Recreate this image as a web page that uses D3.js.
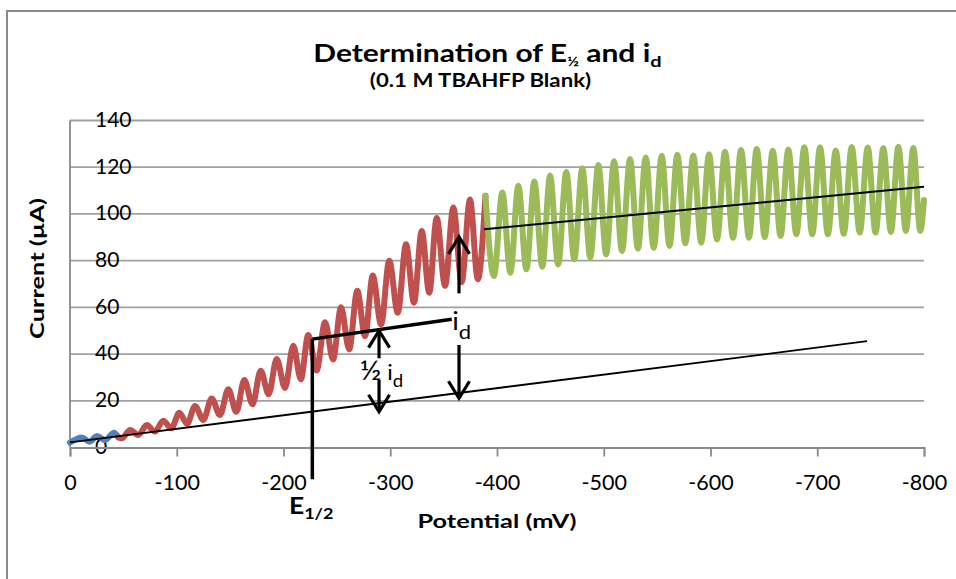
<!DOCTYPE html>
<html>
<head>
<meta charset="utf-8">
<script src="https://cdn.jsdelivr.net/npm/d3@7"></script>
<style>
  body { margin: 0; background: #fff; }
  svg { display: block; font-family: Lato, "Open Sans", sans-serif; }
</style>
</head>
<body>
<svg id="chart" width="956" height="579"></svg>
<script>
// tick labels
const xTicks = [0, -100, -200, -300, -400, -500, -600, -700, -800];
const yTicks = [0, 20, 40, 60, 80, 100, 120, 140];

// blue series (potential mV, current uA)
const blueX = [0, -11.0, -18.1, -25.6, -32.8, -41.2, -45.2];
const blueY = [2.1, 4.3, 2.5, 4.9, 3.2, 6.3, 4.4];

// red series: peaks and troughs
const redX = [-45.2, -48.6, -56.2, -64.0, -71.9, -79.6, -87.4, -94.9, -102.4, -109.7, -117.1, -124.9,
  -132.7, -140.5, -148.3, -155.8, -163.3, -171.0, -178.6, -186.1, -193.6, -201.4, -209.2, -216.2,
  -223.2, -231.0, -238.9, -246.4, -253.9, -261.5, -269.1, -276.4, -283.6, -291.4, -299.1, -307.0,
  -314.8, -322.2, -329.5, -336.5, -343.5, -351.3, -359.1, -366.9, -374.7, -382.0, -389.2];
const redY = [4.4, 3.9, 7.5, 5.4, 9.6, 6.8, 11.5, 8.2, 14.9, 10.1, 17.8, 11.8,
  21.0, 13.9, 24.9, 15.3, 28.9, 18.5, 32.9, 22.8, 37.9, 25.5, 43.6, 29.2,
  48.2, 33.0, 53.6, 37.7, 60.0, 42.0, 67.1, 47.7, 73.6, 52.7, 80.0, 57.7,
  87.0, 62.0, 92.7, 66.3, 98.3, 69.2, 102.7, 70.8, 106.2, 72.0, 107.8];

// green series
const greenX = [-389.2, -397.1, -405.0, -412.5, -420.0, -427.5, -435.0, -442.4, -449.7, -457.3,
  -464.9, -472.4, -479.9, -487.4, -494.9, -502.3, -509.6, -517.1, -524.6, -532.0, -539.3, -546.8,
  -554.3, -561.6, -568.9, -576.4, -583.9, -591.3, -598.6, -606.1, -613.6, -621.1, -628.6, -636.0,
  -643.3, -650.8, -658.3, -665.6, -672.9, -680.4, -687.9, -695.3, -702.6, -710.0, -717.3, -724.8,
  -732.3, -739.8, -747.3, -754.6, -761.9, -769.0, -776.0, -783.0, -790.0, -796.5, -800.0];
const greenY = [107.8, 73.4, 109.2, 74.8, 112.1, 76.3, 113.9, 77.4, 116.4, 78.4,
  118.0, 80.6, 119.6, 81.3, 121.0, 82.7, 122.6, 84.1, 123.5, 85.1, 124.2, 85.5,
  124.9, 86.3, 125.3, 87.4, 125.0, 87.7, 125.6, 89.1, 126.6, 89.8, 127.4, 89.8,
  127.8, 90.1, 127.1, 90.5, 127.6, 91.3, 128.6, 91.3, 128.6, 91.3, 127.2, 91.5,
  128.7, 92.0, 128.4, 92.0, 128.2, 92.3, 128.8, 92.7, 128.2, 92.7, 106.0];

// drawn construction lines
const baseLineX = [0, -746.6];
const baseLineY = [2.2, 45.5];
const plateauX = [-388.0, -800.0];
const plateauY = [93.4, 111.6];
const halfLevelX = [-227.0, -357.6];
const halfLevelY = [46.4, 54.9];
const e12DropY = [46.4, -13.6];

// arrows: x position, tail and head current
const arrowX = [-289.5, -289.5, -364.4, -364.4];
const arrowFrom = [38.2, 28.9, 66.0, 43.9];
const arrowTo = [50.0, 15.3, 90.2, 21.1];

const svg = d3.select("#chart");
const x = d3.scaleLinear().domain([0, -800]).range([70, 924]);
const y = d3.scaleLinear().domain([0, 140]).range([447.5, 120.5]);

// the reference lettering is wider than Lato, so stretch it sideways
function place(sel, px, py, sx, rot) {
  sel.attr("transform", `translate(${px},${py})${rot ? ` rotate(${rot})` : ""} scale(${sx},1)`);
  return sel;
}

// outer frame
svg.append("rect")
  .attr("x", 7).attr("y", 11).attr("width", 970).attr("height", 620)
  .attr("fill", "none").attr("stroke", "#898989").attr("stroke-width", 2);

// gridlines
svg.append("g").selectAll("line").data(yTicks.slice(1)).join("line")
  .attr("x1", x(0)).attr("x2", x(-800))
  .attr("y1", (d) => y(d)).attr("y2", (d) => y(d))
  .attr("stroke", "#a0a0a0").attr("stroke-width", 1.8);

// y tick labels sit inside the plot, left aligned
svg.append("g").selectAll("text").data(yTicks).join("text")
  .attr("x", 95).attr("y", (d) => y(d) + 1)
  .attr("dominant-baseline", "middle")
  .attr("font-size", 21).attr("fill", "#000")
  .text((d) => String(d));

// y axis line
svg.append("line")
  .attr("x1", x(0)).attr("x2", x(0)).attr("y1", y(140)).attr("y2", y(0))
  .attr("stroke", "#898989").attr("stroke-width", 1.8);

// x axis
const xAxis = svg.append("g")
  .attr("transform", `translate(0,${y(0)})`)
  .call(d3.axisBottom(x).tickValues(xTicks).tickSize(9).tickPadding(18).tickFormat((d) => String(d)));
xAxis.select(".domain").attr("stroke", "#898989").attr("stroke-width", 1.8);
xAxis.selectAll(".tick line").attr("stroke", "#898989").attr("stroke-width", 1.8);
xAxis.selectAll(".tick text").attr("font-size", 21.5).attr("font-family", "Lato, sans-serif").attr("fill", "#000");

// series
const line = d3.line().x((d) => x(d[0])).y((d) => y(d[1])).curve(d3.curveMonotoneX);
const series = [
  [blueX, blueY, "#4f81bd"],
  [redX, redY, "#c0504d"],
  [greenX, greenY, "#9bbb59"],
];
for (const [xs, ys, color] of series) {
  svg.append("path")
    .attr("d", line(d3.zip(xs, ys)))
    .attr("fill", "none").attr("stroke", color)
    .attr("stroke-width", 6).attr("stroke-linejoin", "round").attr("stroke-linecap", "round");
}

// construction lines
const straight = d3.line().x((d) => x(d[0])).y((d) => y(d[1]));
svg.append("path").attr("d", straight(d3.zip(baseLineX, baseLineY)))
  .attr("stroke", "#000").attr("stroke-width", 1.8).attr("fill", "none");
svg.append("path").attr("d", straight(d3.zip(plateauX, plateauY)))
  .attr("stroke", "#000").attr("stroke-width", 2).attr("fill", "none");
svg.append("path").attr("d", straight(d3.zip(halfLevelX, halfLevelY)))
  .attr("stroke", "#000").attr("stroke-width", 3.5).attr("fill", "none");
svg.append("path").attr("d", straight([[halfLevelX[0], e12DropY[0]], [halfLevelX[0], e12DropY[1]]]))
  .attr("stroke", "#000").attr("stroke-width", 3.5).attr("fill", "none");

// arrows with open heads
arrowX.forEach((ax, i) => {
  const px = x(ax), y0 = y(arrowFrom[i]), y1 = y(arrowTo[i]);
  const dir = y1 < y0 ? 1 : -1;
  const g = svg.append("g").attr("stroke", "#000").attr("stroke-width", 3.2).attr("fill", "none");
  g.append("line").attr("x1", px).attr("x2", px).attr("y1", y0).attr("y2", y1 + dir * 1);
  g.append("path").attr("d", `M${px - 10.5},${y1 + dir * 17}L${px},${y1}L${px + 10.5},${y1 + dir * 17}`);
});

// annotation labels
const half = place(svg.append("text"), x(-271.5), y(29.0), 1.1)
  .attr("font-size", 21).attr("fill", "#000");
half.append("tspan").attr("font-size", 27).text("½");
half.append("tspan").text(" i");
half.append("tspan").attr("dy", 7).attr("font-size", 17).text("d");

const id = place(svg.append("text"), x(-358.0), y(50.5), 1.1)
  .attr("font-size", 25).attr("fill", "#000");
id.append("tspan").text("i");
id.append("tspan").attr("dy", 9).attr("font-size", 20).text("d");

const e12 = place(svg.append("text"), 289, 514, 1.2)
  .attr("font-size", 22).attr("font-weight", "bold").attr("fill", "#000");
e12.append("tspan").text("E");
e12.append("tspan").attr("dy", 5).attr("font-size", 15).text("1/2");

// titles
const title = place(svg.append("text"), 487.5, 62, 1.25).attr("text-anchor", "middle")
  .attr("font-size", 24).attr("font-weight", "bold").attr("fill", "#000");
title.append("tspan").text("Determination of E");
title.append("tspan").attr("dy", 4).attr("font-size", 13).text("½");
title.append("tspan").attr("dy", -4).text(" and i");
title.append("tspan").attr("dy", 5).attr("font-size", 16).text("d");

place(svg.append("text"), 480.5, 87, 1.17).attr("text-anchor", "middle")
  .attr("font-size", 19).attr("font-weight", "bold").attr("fill", "#000")
  .text("(0.1 M TBAHFP Blank)");

place(svg.append("text"), 497, 528, 1.3).attr("text-anchor", "middle")
  .attr("font-size", 19.5).attr("font-weight", "bold").attr("fill", "#000")
  .text("Potential (mV)");

place(svg.append("text"), 44, 268.5, 1.3, -90).attr("text-anchor", "middle")
  .attr("font-size", 19.5).attr("font-weight", "bold").attr("fill", "#000")
  .text("Current (µA)");
</script>
</body>
</html>
